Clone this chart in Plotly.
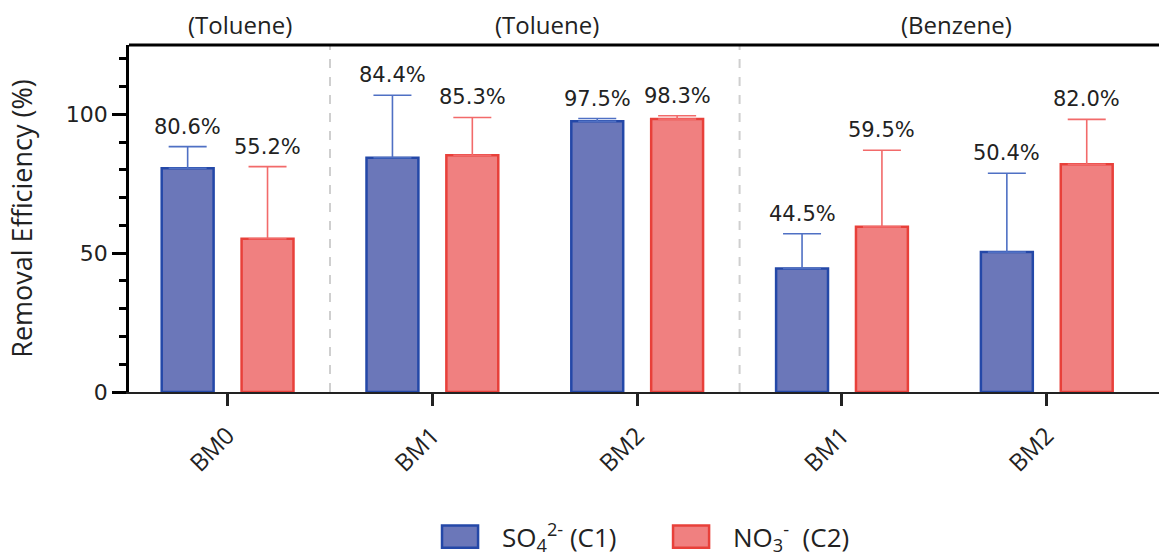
import plotly.graph_objects as go

# ---- data ----
categories = ["BM0", "BM1", "BM2", "BM1", "BM2"]
group_names = ["(Toluene)", "(Toluene)", "(Benzene)"]
group_sizes = [1, 2, 2]

so4_values = [80.6, 84.4, 97.5, 44.5, 50.4]
so4_errors = [7.8, 22.5, 1.0, 12.5, 28.4]
no3_values = [55.2, 85.3, 98.3, 59.5, 82.0]
no3_errors = [26.0, 13.6, 1.2, 27.6, 16.2]

series_names = ["SO<sub>4</sub><sup>2-</sup> (C1)", "NO<sub>3</sub><sup>-</sup>  (C2)"]

# ---- style ----
BLUE_FILL = "#6b77b9"
BLUE_LINE = "#2448a8"
BLUE_ERR = "#4f70c4"
RED_FILL = "#f08080"
RED_LINE = "#e8403a"
RED_ERR = "#f26a6a"
NUM_FONT = "DejaVu Sans"
TXT_FONT = "Open Sans"
BARGAP = 0.22
BARGROUPGAP = 0.35

x = list(range(len(categories)))
zeros = [0] * len(categories)

fig = go.Figure()
fig.add_trace(go.Bar(
    x=x, y=so4_values, name=series_names[0], showlegend=False,
    marker=dict(color=BLUE_FILL, line=dict(color=BLUE_LINE, width=2.5)),
    error_y=dict(type="data", symmetric=False, array=so4_errors, arrayminus=zeros,
                 color=BLUE_ERR, thickness=1.6, width=19),
))
fig.add_trace(go.Bar(
    x=x, y=no3_values, name=series_names[1], showlegend=False,
    marker=dict(color=RED_FILL, line=dict(color=RED_LINE, width=2.5)),
    error_y=dict(type="data", symmetric=False, array=no3_errors, arrayminus=zeros,
                 color=RED_ERR, thickness=1.6, width=19),
))

annotations = []
half_slot = (1 - BARGAP) / 4
for vals, errs, sign in ((so4_values, so4_errors, -1), (no3_values, no3_errors, 1)):
    for i, (v, e) in enumerate(zip(vals, errs)):
        annotations.append(dict(
            x=i + sign * half_slot, y=v + e, xref="x", yref="y",
            text=f"{v:.1f}%", showarrow=False, yanchor="bottom", yshift=6,
            font=dict(family=NUM_FONT, size=21, color="#222"),
        ))

# group labels and separators
shapes = []
start = 0
for gi, (gname, gsize) in enumerate(zip(group_names, group_sizes)):
    center = start + (gsize - 1) / 2
    annotations.append(dict(
        x=center, y=1, xref="x", yref="paper", text=gname, showarrow=False,
        yanchor="middle", yshift=21, xshift=12,
        font=dict(family=TXT_FONT, size=24, color="#222"),
    ))
    if gi > 0:
        shapes.append(dict(type="line", xref="x", yref="paper",
                           x0=start - 0.5, x1=start - 0.5, y0=0, y1=1,
                           line=dict(color="#cfcfcf", width=2, dash="dash")))
    start += gsize

# top border
shapes.append(dict(type="line", xref="paper", yref="paper", x0=0, x1=1, y0=1, y1=1,
                   line=dict(color="black", width=3)))

# custom legend
legend_items = [(series_names[0], BLUE_FILL, BLUE_LINE, 0.3039),
                (series_names[1], RED_FILL, RED_LINE, 0.5282)]
for name, fill, line, x0 in legend_items:
    shapes.append(dict(type="rect", xref="paper", yref="paper",
                       x0=x0, x1=x0 + 0.035, y0=-0.449, y1=-0.385,
                       fillcolor=fill, line=dict(color=line, width=2.5)))
    annotations.append(dict(x=x0 + 0.056, y=-0.417, xref="paper", yref="paper",
                            text=name, showarrow=False, xanchor="left", yanchor="middle",
                            font=dict(family=TXT_FONT, size=26, color="#222")))

fig.update_layout(
    width=1159, height=556,
    margin=dict(l=129, r=0, t=45, b=164),
    paper_bgcolor="white", plot_bgcolor="white",
    barmode="group", bargap=BARGAP, bargroupgap=BARGROUPGAP,
    annotations=annotations, shapes=shapes,
    showlegend=False,
)
fig.update_xaxes(
    tickmode="array", tickvals=x, ticktext=categories, tickangle=-45,
    range=[-0.4814, 4.5479], showline=True, linecolor="#222", linewidth=2,
    ticks="outside", ticklen=12, tickwidth=2.5, tickcolor="#222", ticklabelstandoff=6,
    tickfont=dict(family=TXT_FONT, size=24, color="#222"),
    showgrid=False, zeroline=False,
)
fig.update_yaxes(
    range=[0, 125], tickvals=[0, 50, 100], showline=True, linecolor="black", linewidth=2.5,
    ticks="outside", ticklen=14, tickwidth=2.5, tickcolor="black",
    minor=dict(dtick=10, ticks="outside", ticklen=7, tickwidth=2.5, tickcolor="black", showgrid=False),
    tickfont=dict(family=NUM_FONT, size=22, color="#222"),
    title=dict(text="Removal Efficiency (%)", standoff=26,
               font=dict(family=TXT_FONT, size=27, color="#222")),
    showgrid=False, zeroline=False,
)

fig.write_html("out.html", config={"displayModeBar": False},
               post_script="document.body.style.margin='0';document.body.style.padding='0';")
